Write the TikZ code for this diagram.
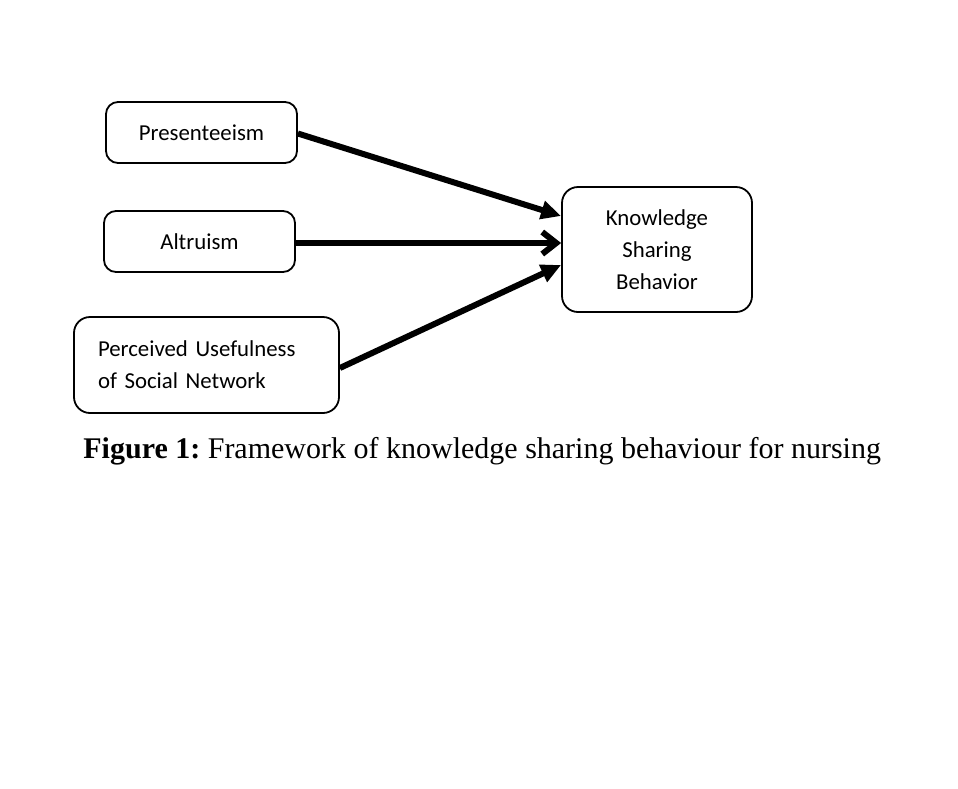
\documentclass[tikz,border=0pt]{standalone}
\usepackage{fontspec}
\setmainfont{Carlito}
\newfontfamily\capfont{Liberation Serif}
\usetikzlibrary{arrows.meta,positioning}
\frenchspacing

\begin{document}
\begin{tikzpicture}[x=0.5pt,y=-0.5pt,
  bx/.style={draw,line width=0.9pt,rounded corners=6pt,font=\fontsize{11.4}{16}\selectfont,align=center},
  ar/.style={line width=3pt,-{Triangle[length=10pt,width=9pt]}},
  ob/.style={line width=3pt,-{Straight Barb[length=7pt,width=11pt,line width=3pt]}}]
  \useasboundingbox (0,0) rectangle (958,788);
  \node[bx,minimum width=95.5pt,minimum height=30.5pt] (pres) at (201.5,132.5) {Presenteeism};
  \node[bx,minimum width=95.5pt,minimum height=30.5pt] (alt) at (199.5,241.5) {Altruism};
  \node[bx,rounded corners=8pt,align=left,text width=108.5pt,inner xsep=12pt,minimum height=48pt] (perc) at (206.5,365) {Perceived Usefulness\\of Social Network};
  \node[bx,rounded corners=8pt,minimum width=95pt,minimum height=62.5pt] (ksb) at (657,249.5) {Knowledge\\Sharing\\Behavior};
  \draw[ar] (pres.east) ++(0,1) -- ([yshift=16.75pt]ksb.west);
  \draw[ob] (alt.east) ++(0,1.5) -- ([yshift=3.25pt]ksb.west);
  \draw[ar] ([yshift=-1.5pt]perc.east) -- ([yshift=-7.75pt]ksb.west);
  % caption
  \node[anchor=base west,font=\capfont\fontsize{15}{17}\selectfont,inner sep=0pt] (cap) at (83,458) {\textbf{Figure 1:} Framework of knowledge sharing behaviour for nursing};
\end{tikzpicture}
\end{document}
